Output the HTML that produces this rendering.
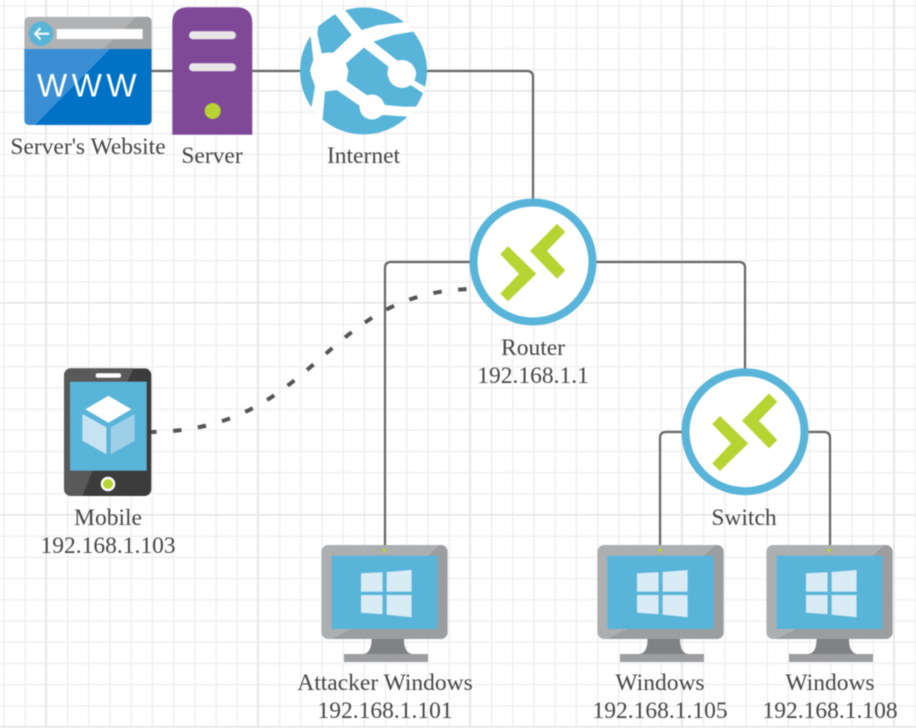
<!DOCTYPE html>
<html>
<head>
<meta charset="utf-8">
<style>
html,body{margin:0;padding:0;background:#fff;width:916px;height:728px;overflow:hidden}
svg{display:block;filter:blur(0.45px)}
text{font-family:"Liberation Serif",serif;font-size:23.5px;fill:#454545;text-anchor:middle}
</style>
</head>
<body>
<svg width="916" height="728" viewBox="0 0 916 728" xmlns="http://www.w3.org/2000/svg">
<defs>
  <pattern id="minor" x="3.3" y="5.5" width="21.2" height="21.2" patternUnits="userSpaceOnUse">
    <path d="M0.75 0V21.2M0 0.75H21.2" stroke="#efefef" stroke-width="1.5" fill="none"/>
  </pattern>
  <pattern id="major" x="45" y="90" width="212" height="212" patternUnits="userSpaceOnUse">
    <path d="M0.75 0V212M0 0.75H212" stroke="#e6e6e6" stroke-width="1.6" fill="none"/>
  </pattern>
  <clipPath id="globe"><circle cx="363.5" cy="71" r="63.5"/></clipPath>
  <clipPath id="monClip"><rect width="126.4" height="94" rx="7"/></clipPath>
  <clipPath id="webClip"><rect x="24.3" y="16.7" width="127.4" height="108.3" rx="5"/></clipPath>
  <clipPath id="phoneClip"><rect x="64" y="368.3" width="87.4" height="127.7" rx="7"/></clipPath>
  <g id="router">
    <circle r="59.5" fill="#fff" stroke="#59b4d9" stroke-width="8"/>
    <polygon fill="#b8d432" points="-25,-15.7 3.3,11.7 -25,39.3 -32.7,31.7 -14,11.7 -32.7,-7.7"/>
    <polygon fill="#b8d432" points="24,-38.3 32.3,-30 14,-11 32.3,8.3 24,16.7 -3,-11"/>
  </g>
  <g id="monitor">
    <path d="M50.3 94H82.7C82.7 104 86 109 92 109H106.7V117H22.7V109H41C47 109 50.3 104 50.3 94Z" fill="#808183"/>
    <rect x="22.7" y="109" width="84" height="8" style="fill:#9d9ea0"/>
    <g clip-path="url(#monClip)">
      <rect width="126.4" height="94" fill="#acaeb0"/>
      <polygon points="118,0 126.4,0 126.4,94 10,94 30,84 116.3,84 116.3,10.7 107,10.7" fill="#9c9d9f"/>
    </g>
    <rect x="10.3" y="10.7" width="106" height="73.3" fill="#59b4d9"/>
    <g fill="#d9ebf5">
      <polygon points="39.7,28.3 61.3,27.3 61.3,46.7 39.7,46.7"/>
      <polygon points="65.3,27 90.3,25 90.3,46.7 65.3,46.7"/>
      <polygon points="39.7,50 61.3,50 61.3,69.3 39.7,67.7"/>
      <polygon points="65.3,50 90.3,50 90.3,72.3 65.3,69.7"/>
    </g>
    <circle cx="62.7" cy="5.3" r="1.8" fill="#b8d432"/>
  </g>
</defs>

<rect width="916" height="728" fill="#fff"/>
<rect width="916" height="728" fill="url(#minor)"/>
<rect width="916" height="728" fill="url(#major)"/>

<!-- connectors -->
<g fill="none" stroke="#666" stroke-width="2.2">
  <path d="M150 71H300"/>
  <path d="M425 71H527Q533 71 533 77V205"/>
  <path d="M475 262H391Q385 262 385 268V548"/>
  <path d="M590 262H739Q745 262 745 268V375"/>
  <path d="M685 432H666Q660 432 660 438V548"/>
  <path d="M805 432H824Q830 432 830 438V548"/>
</g>
<path d="M148 432C320 432 320 289 476 289" fill="none" stroke="#555" stroke-width="4" stroke-dasharray="8.5 16.5"/>

<!-- website -->
<g clip-path="url(#webClip)">
  <rect x="24.3" y="16.7" width="127.4" height="32.3" fill="#b0b2b4"/>
  <polygon points="136.7,16.7 151.7,16.7 151.7,49 103.3,49" fill="#a0a2a4"/>
  <rect x="24.3" y="49" width="127.4" height="76" fill="#0072c6"/>
  <polygon points="24.3,49 110,49 35,125 24.3,125" fill="#3a8fd4"/>
</g>
<circle cx="41" cy="33.7" r="12.3" fill="#59b4d9"/>
<path d="M49 33.7H35M40.5 28L35 33.7L40.5 39.4" fill="none" stroke="#fff" stroke-width="2"/>
<rect x="56.7" y="29" width="86" height="10" fill="#fff"/>
<text x="37" y="96.7" style="font-family:'Liberation Sans',sans-serif;font-size:32px;fill:#fff;text-anchor:start;letter-spacing:4.5px">WWW</text>

<!-- server -->
<path d="M172.3 134.7V23.3Q172.3 7.3 188.3 7.3H236.3Q252.3 7.3 252.3 23.3V134.7Z" fill="#804998"/>
<rect x="189" y="31.3" width="47" height="8" rx="4" fill="#e6e6e6"/>
<rect x="189" y="63.3" width="47" height="8" rx="4" fill="#e6e6e6"/>
<circle cx="212.7" cy="111" r="8" fill="#b8d432"/>

<!-- internet -->
<circle cx="363.5" cy="71" r="63.5" fill="#fff"/>
<g clip-path="url(#globe)">
  <g transform="translate(290,0) scale(0.33333)" fill="#59b4d9">
    <polygon points="165,30 200,0 300,0 350,66 265,75 215,90"/>
    <polygon points="135,42 185,105 130,158 95,160 82,100 85,78"/>
    <polygon points="62,110 70,180 60,212 75,260 65,320 20,300 10,212 20,120"/>
    <polygon points="370,95 440,100 440,280 408,262 370,240 375,215 355,190 320,180 250,125 310,105"/>
    <polygon points="222,143 295,200 292,225 310,255 335,262 362,255 400,280 380,320 340,320 285,315 265,290 230,285 170,243 175,212 168,190"/>
    <polygon points="105,275 140,270 210,318 225,350 245,358 280,345 350,350 330,420 100,420 98,355"/>
  </g>
</g>
<circle cx="329" cy="71" r="18.5" fill="#fff"/>
<circle cx="402" cy="74" r="14" fill="#fff"/>
<circle cx="372" cy="107" r="12.5" fill="#fff"/>

<!-- router, switch -->
<use href="#router" x="533" y="262"/>
<use href="#router" x="745" y="431.7"/>

<!-- mobile -->
<g clip-path="url(#phoneClip)">
  <rect x="64" y="368.3" width="87.4" height="127.7" fill="#3c3c3c"/>
  <polygon points="64,368 133.7,368 127.4,381.7 70,381.7 70,470.7 92.4,470.7 82.4,496 64,496" fill="#595959"/>
</g>
<rect x="70" y="381.7" width="76.7" height="89" fill="#59b4d9"/>
<rect x="95.7" y="373.3" width="25.3" height="4.4" rx="2" fill="#fff"/>
<circle cx="108" cy="484" r="7.3" fill="#fff"/>
<circle cx="108" cy="484" r="5" fill="#b8d432"/>
<polygon points="108.4,395.7 131.4,409.3 108.4,422.7 85.4,409.3" fill="#fff"/>
<polygon points="82.4,414 106.4,427.3 106.4,454.3 82.4,440.7" fill="#c6e3f2"/>
<polygon points="110.7,427.3 134.7,414 134.7,440.7 110.7,454.3" fill="#9dd0e8"/>

<!-- monitors -->
<use href="#monitor" x="321.3" y="545"/>
<use href="#monitor" x="597.3" y="545"/>
<use href="#monitor" x="766.3" y="545"/>

<!-- labels -->
<text x="88" y="154">Server's Website</text>
<text x="212" y="163">Server</text>
<text x="363.5" y="163">Internet</text>
<text x="533" y="355">Router</text>
<text x="533" y="383">192.168.1.1</text>
<text x="108" y="525">Mobile</text>
<text x="108" y="553">192.168.1.103</text>
<text x="744" y="525">Switch</text>
<text x="385" y="690">Attacker Windows</text>
<text x="385" y="718">192.168.1.101</text>
<text x="660" y="690">Windows</text>
<text x="660" y="718">192.168.1.105</text>
<text x="830" y="690">Windows</text>
<text x="830" y="718">192.168.1.108</text>
</svg>
</body>
</html>
